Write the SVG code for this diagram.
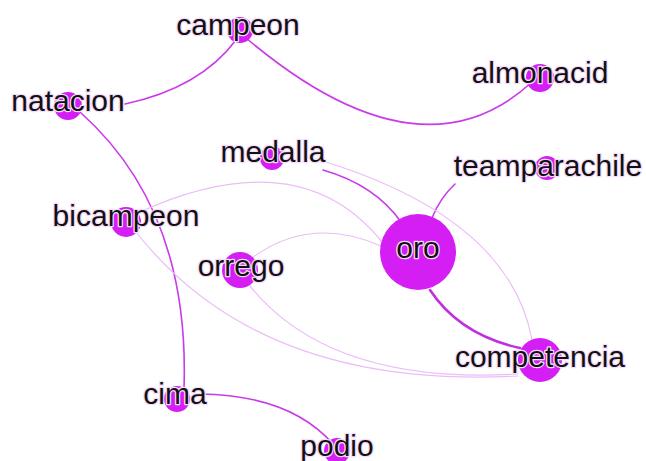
<svg xmlns="http://www.w3.org/2000/svg" width="646" height="461" viewBox="0 0 646 461">
<style>
.n{fill:#d41ef4}
.t{font-family:"Liberation Sans",Arial,sans-serif;font-size:30px;fill:#111;text-anchor:middle;stroke:#f6dcfb;stroke-width:2.6px;paint-order:stroke;stroke-linejoin:round}
.e{fill:none;stroke-linecap:round}
.d{stroke:#c93ae8;stroke-width:1.6}
.k{stroke:#c22fe0;stroke-width:2.6}
.l{stroke:#ebbdf6;stroke-width:1.2}
</style>
<rect width="646" height="461" fill="#fff"/>
<g id="edges">
<path class="e d" d="M125,104 Q200,88 236,40"/>
<path class="e d" d="M246,38 Q420,185 532,82"/>
<path class="e d" d="M80,112 Q190,210 184,388"/>
<path class="e d" d="M200,394 Q290,395 333,444"/>
<path class="e d" d="M323,170 Q375,185 401,222"/>
<path class="e d" d="M455,184 Q440,198 432,218"/>
<path class="e k" d="M430,290 Q460,335 520,348"/>
<path class="e l" d="M326,162 Q510,220 532,340"/>
<path class="e l" d="M140,212 Q300,140 382,242"/>
<path class="e l" d="M252,258 Q310,215 381,246"/>
<path class="e l" d="M136,232 Q260,390 518,376"/>
<path class="e l" d="M250,286 Q330,385 518,374"/>
</g>
<g id="campeon"><circle class="n" cx="240" cy="30" r="13"/><text class="t" x="238" y="35">campeon</text></g>
<g id="almonacid"><circle class="n" cx="540" cy="78" r="14"/><text class="t" x="540" y="83">almonacid</text></g>
<g id="natacion"><circle class="n" cx="68" cy="106" r="14"/><text class="t" x="68" y="111">natacion</text></g>
<g id="medalla"><circle class="n" cx="272" cy="158" r="12"/><text class="t" x="273" y="162">medalla</text></g>
<g id="teamparachile"><circle class="n" cx="547" cy="168" r="12"/><text class="t" x="548" y="176">teamparachile</text></g>
<g id="bicampeon"><circle class="n" cx="126" cy="222" r="15"/><text class="t" x="126" y="226">bicampeon</text></g>
<g id="oro"><circle class="n" cx="418" cy="252" r="38"/><text class="t" x="418" y="258">oro</text></g>
<g id="orrego"><circle class="n" cx="240" cy="270" r="18"/><text class="t" x="241" y="276">orrego</text></g>
<g id="competencia"><circle class="n" cx="540" cy="360" r="22"/><text class="t" x="540" y="367">competencia</text></g>
<g id="cima"><circle class="n" cx="177" cy="399" r="13"/><text class="t" x="175" y="404">cima</text></g>
<g id="podio"><circle class="n" cx="337" cy="451" r="13"/><text class="t" x="337" y="456">podio</text></g>
</svg>
